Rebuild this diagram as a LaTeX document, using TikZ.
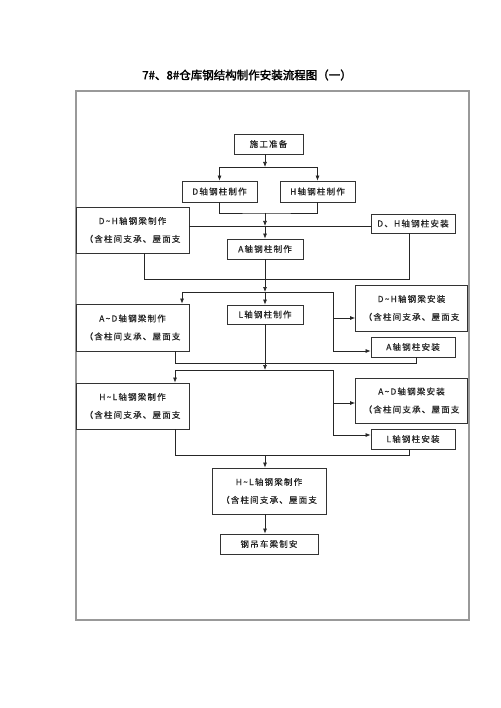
\documentclass[tikz,border=0pt]{standalone}
\usepackage{fontspec}
\usetikzlibrary{arrows.meta}
\setmainfont{Liberation Serif}
\newfontfamily\cjk[LetterSpace=14,FakeBold=0.6]{Noto Sans CJK SC}
\newfontfamily\cjkt[FakeBold=2]{Noto Sans CJK SC}
\newcommand\tld{\char126\relax}
\begin{document}
\begin{tikzpicture}[x=1pt,y=-1pt,
  box/.style={draw=black!80, line width=0.8pt, inner sep=0pt, text=black!85,
    font=\cjk\fontsize{8.5}{10}\selectfont},
  boxtwo/.style={box, align=center, minimum width=113pt, minimum height=46pt},
  conn/.style={draw=black!85, line width=0.7pt},
  arr/.style={conn, -{Latex[length=5pt,width=4pt]}}]
\useasboundingbox (0,0) rectangle (500,708);
\node[draw=black!40, line width=1.4pt, minimum width=393pt, minimum height=529pt, inner sep=0pt] (frame) at (272.5,355.5) {};
\node[font=\cjkt\fontsize{11.5}{12}\selectfont] (title) at (247,75) {7\#、8\#仓库钢结构制作安装流程图（一）};
% nodes
\node[box, minimum width=69pt, minimum height=20pt] (s) at (268.5,144) {施工准备};
\node[box, minimum width=75pt, minimum height=21pt] (d) at (219.5,191.5) {D轴钢柱制作};
\node[box, minimum width=75pt, minimum height=21pt] (h) at (317.5,191.5) {H轴钢柱制作};
\node[boxtwo] (dhb) at (132.5,230) {D\tld H轴钢梁制作\\[8pt]（含柱间支承、屋面支};
\node[box, minimum width=84pt, minimum height=19pt] (dhc) at (413,223.5) {D、H轴钢柱安装};
\node[box, minimum width=76pt, minimum height=20pt] (a) at (265,249) {A轴钢柱制作};
\node[boxtwo, minimum height=47pt] (adb) at (132.5,327.5) {A\tld D轴钢梁制作\\[8pt]（含柱间支承、屋面支};
\node[box, minimum width=76pt, minimum height=19pt] (l) at (265,314.5) {L轴钢柱制作};
\node[boxtwo, minimum width=112pt] (dhi) at (411.5,308) {D\tld H轴钢梁安装\\[8pt]（含柱间支承、屋面支};
\node[box, minimum width=84pt, minimum height=20pt] (ac) at (413,347) {A轴钢柱安装};
\node[boxtwo] (hlb) at (132.5,406) {H\tld L轴钢梁制作\\[8pt]（含柱间支承、屋面支};
\node[boxtwo, minimum width=112pt, minimum height=45pt] (adi) at (411.5,400.5) {A\tld D轴钢梁安装\\[8pt]（含柱间支承、屋面支};
\node[box, minimum width=84pt, minimum height=20pt] (lc) at (413,439) {L轴钢柱安装};
\node[boxtwo, minimum width=114pt] (hlc) at (269,491) {H\tld L轴钢梁制作\\[8pt]（含柱间支承、屋面支};
\node[box, minimum width=98pt, minimum height=20pt] (g) at (269,544) {钢吊车梁制安};
% helper coordinates
\coordinate (sp) at (265,0);
\coordinate (cA1) at (144,0);
\coordinate (cL2) at (175,0);
\coordinate (cA) at (182,0);
\coordinate (cR) at (333,0);
\coordinate (cB1) at (409,0);
\coordinate (cR2) at (416,0);
\coordinate (j1) at (265,167);
\coordinate (j2a) at (265,213);
\coordinate (j2) at (265,226);
\coordinate (r279) at (0,279);
\coordinate (j3) at (265,292);
\coordinate (r318) at (0,318);
\coordinate (r351) at (0,351);
\coordinate (r363) at (0,363);
\coordinate (j4) at (265,370);
\coordinate (r403) at (0,403);
\coordinate (r435) at (0,435);
\coordinate (r455) at (0,455);
% connectors
\draw[arr] (s.south -| sp) -- (j1);
\draw[conn] (d.north |- j1) -- (h.north |- j1);
\draw[arr] (d.north |- j1) -- (d.north);
\draw[arr] (h.north |- j1) -- (h.north);
\draw[conn] (d.south) |- (j2a) -| (h.south);
\draw[arr] (j2a) -- (j2);
\draw[conn] (dhb.east |- j2) -- (dhc.west |- j2);
\draw[arr] (j2) -- (a.north);
\draw[conn] (dhb.south -| cA1) |- (cB1 |- r279) -- (dhc.south -| cB1);
\draw[arr] (a.south) -- (j3);
\draw[conn] (cA |- j3) -- (cR |- j3);
\draw[arr] (cA |- j3) -- (adb.north -| cA);
\draw[arr] (j3) -- (l.north);
\draw[conn] (cR |- j3) -- (cR |- r351);
\draw[arr] (cR |- r318) -- (dhi.west |- r318);
\draw[arr] (cR |- r351) -- (ac.west |- r351);
\draw[conn] (adb.south -| cL2) |- (cR2 |- r363) -- (ac.south -| cR2);
\draw[arr] (l.south) -- (j4);
\draw[conn] (cL2 |- j4) -- (cR |- j4);
\draw[arr] (cL2 |- j4) -- (hlb.north -| cL2);
\draw[conn] (cR |- j4) -- (cR |- r435);
\draw[arr] (cR |- r403) -- (adi.west |- r403);
\draw[arr] (cR |- r435) -- (lc.west |- r435);
\draw[conn] (hlb.south -| cL2) |- (cB1 |- r455) -- (lc.south -| cB1);
\draw[arr] (sp |- r455) -- (hlc.north -| sp);
\draw[arr] (hlc.south -| sp) -- (g.north -| sp);
\end{tikzpicture}
\end{document}
